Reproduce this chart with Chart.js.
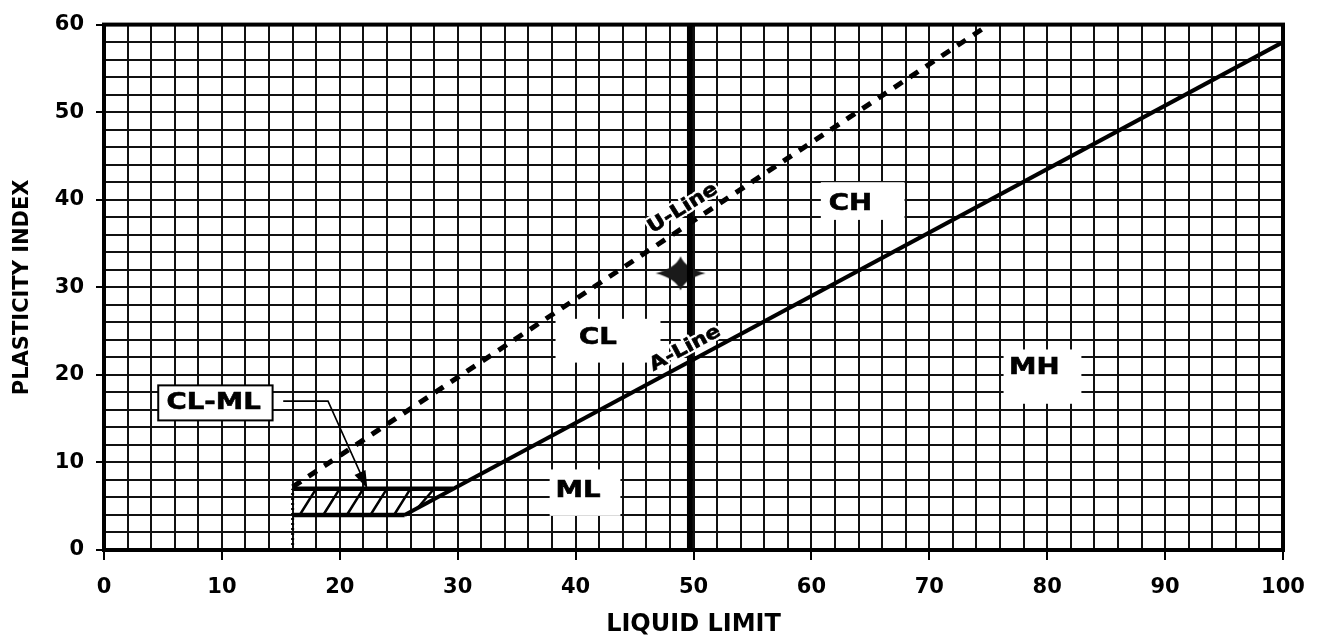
<!DOCTYPE html>
<html><head><meta charset="utf-8">
<script src="https://cdn.jsdelivr.net/npm/chart.js@4.4.1/dist/chart.umd.min.js"></script>
<style>html,body{margin:0;padding:0;background:#fff;overflow:hidden}canvas{display:block}</style>
</head><body>
<canvas id="c" width="1320" height="644"></canvas>
<script>
// ---- data ----
const aLineLL = [25.5, 100];
const aLinePI = [4, 58];
const uLineLL = [16, 74.5];
const uLinePI = [7.2, 59.5];
const clmlTopLL = [16, 29.6];
const clmlTopPI = [7, 7];
const clmlBottomLL = [16, 25.5];
const clmlBottomPI = [4, 4];
const ll50LL = [49.7, 49.7];
const ll50PI = [0, 60];
const dotLL = [16, 16];
const dotPI = [0, 7];
const hatchFromLL = [16.6, 18.6, 20.6, 22.6, 24.6, 26.6];
const hatchFromPI = [4, 4, 4, 4, 4, 4.8];
const hatchToLL = [18, 20, 22, 24, 26, 28];
const hatchToPI = [7, 7, 7, 7, 7, 7];
const leaderLL = [15.2, 19, 22.2];
const leaderPI = [17, 17, 7.4];
const sampleLL = [48.9];
const samplePI = [31.6];
const zoneNames = ['CH', 'CL', 'MH', 'ML'];
const zoneLL = [63.3, 41.9, 78.9, 40.2];
const zonePI = [39.5, 24.2, 20.8, 6.7];
const lineNames = ['U-Line', 'A-Line'];
const lineLabelLL = [49.1, 49.3];
const lineLabelPI = [39.0, 23.0];
const xTickStep = 2, yTickStep = 2, labelEvery = 10;
const xTitle = 'LIQUID LIMIT';
const yTitle = 'PLASTICITY INDEX';

// ---- layout/style (not data) ----
const zoneBoxes = [ // [llFrom, llTo, piFrom, piTo] white patches behind labels
  [60.8, 67.9, 37.7, 42.0],
  [38.3, 47.2, 21.4, 26.4],
  [76.3, 82.9, 16.7, 22.9],
  [37.8, 43.8, 3.9, 9.2]
];
const clmlBox = [4.6, 14.3, 14.8, 18.8];
const clmlText = {text: 'CL-ML', ll: 9.3, pi: 16.8};
const lineLabelAngles = [-32, -28];

const pts = (xs, ys) => xs.map((x, i) => ({x, y: ys[i]}));
const hatchData = [];
hatchFromLL.forEach((x, i) => {
  hatchData.push({x, y: hatchFromPI[i]}, {x: hatchToLL[i], y: hatchToPI[i]}, {x: hatchToLL[i], y: null});
});

// four-pointed star marker (concave sides)
const star = document.createElement('canvas');
star.width = 52; star.height = 36;
(function () {
  const g = star.getContext('2d');
  const cx = 26, cy = 18, rx = 25, ry = 17, k = 5;
  g.beginPath();
  g.moveTo(cx, cy - ry);
  g.quadraticCurveTo(cx + k, cy - k, cx + rx, cy);
  g.quadraticCurveTo(cx + k, cy + k, cx, cy + ry);
  g.quadraticCurveTo(cx - k, cy + k, cx - rx, cy);
  g.quadraticCurveTo(cx - k, cy - k, cx, cy - ry);
  g.closePath();
  g.fillStyle = '#1a1a1a';
  g.fill();
})();

const FONT = '"DejaVu Sans", "Liberation Sans", Arial, sans-serif';

function drawText(ctx, text, x, y, size, sx, rotDeg, halo) {
  ctx.save();
  ctx.translate(x, y);
  if (rotDeg) ctx.rotate(rotDeg * Math.PI / 180);
  ctx.scale(sx, 1);
  ctx.font = 'bold ' + size + 'px ' + FONT;
  ctx.textAlign = 'center';
  ctx.textBaseline = 'middle';
  if (halo) {
    ctx.lineWidth = halo; ctx.strokeStyle = '#fff'; ctx.lineJoin = 'round';
    ctx.strokeText(text, 0, 0);
  }
  ctx.fillStyle = '#000';
  ctx.fillText(text, 0, 0);
  ctx.lineWidth = 0.6; ctx.strokeStyle = '#000';
  ctx.strokeText(text, 0, 0);
  ctx.restore();
}

const decor = {
  id: 'decor',
  beforeDatasetsDraw(chart) {
    const {ctx, scales: {x, y}} = chart;
    ctx.save();
    ctx.fillStyle = '#fff';
    zoneBoxes.forEach(b => {
      const x0 = x.getPixelForValue(b[0]), x1 = x.getPixelForValue(b[1]);
      const y0 = y.getPixelForValue(b[3]), y1 = y.getPixelForValue(b[2]);
      ctx.fillRect(x0, y0, x1 - x0, y1 - y0);
    });
    ctx.restore();
  },
  afterDatasetsDraw(chart) {
    const {ctx, chartArea: a, scales: {x, y}} = chart;
    ctx.save();
    // frame
    ctx.lineWidth = 4; ctx.strokeStyle = '#000';
    ctx.strokeRect(a.left, a.top, a.right - a.left, a.bottom - a.top);
    // zone labels
    zoneNames.forEach((t, i) => {
      drawText(ctx, t, x.getPixelForValue(zoneLL[i]), y.getPixelForValue(zonePI[i]), 23, 1.2, 0, 0);
    });
    // line labels
    lineNames.forEach((t, i) => {
      drawText(ctx, t, x.getPixelForValue(lineLabelLL[i]), y.getPixelForValue(lineLabelPI[i]), 19, 1.15, lineLabelAngles[i], 5);
    });
    // CL-ML box
    const bx0 = x.getPixelForValue(clmlBox[0]), bx1 = x.getPixelForValue(clmlBox[1]);
    const by0 = y.getPixelForValue(clmlBox[3]), by1 = y.getPixelForValue(clmlBox[2]);
    ctx.fillStyle = '#fff';
    ctx.fillRect(bx0, by0, bx1 - bx0, by1 - by0);
    ctx.lineWidth = 2; ctx.strokeStyle = '#000';
    ctx.strokeRect(bx0, by0, bx1 - bx0, by1 - by0);
    drawText(ctx, clmlText.text, x.getPixelForValue(clmlText.ll), y.getPixelForValue(clmlText.pi), 23, 1.2, 0, 0);
    // arrow head on leader
    const n = leaderLL.length;
    const ex = x.getPixelForValue(leaderLL[n - 1]), ey = y.getPixelForValue(leaderPI[n - 1]);
    const sx = x.getPixelForValue(leaderLL[n - 2]), sy = y.getPixelForValue(leaderPI[n - 2]);
    const ang = Math.atan2(ey - sy, ex - sx);
    const L = 14, W = 6;
    ctx.beginPath();
    ctx.moveTo(ex + 4 * Math.cos(ang), ey + 4 * Math.sin(ang));
    ctx.lineTo(ex - L * Math.cos(ang) + W * Math.sin(ang), ey - L * Math.sin(ang) - W * Math.cos(ang));
    ctx.lineTo(ex - L * Math.cos(ang) - W * Math.sin(ang), ey - L * Math.sin(ang) + W * Math.cos(ang));
    ctx.closePath();
    ctx.fillStyle = '#000';
    ctx.fill();
    ctx.restore();
  }
};

const lineDs = (data, width, dash, extra) => Object.assign({
  type: 'line', data, borderColor: '#000', backgroundColor: '#000', borderWidth: width,
  borderDash: dash || [], pointRadius: 0, showLine: true, fill: false, tension: 0, spanGaps: false,
  borderCapStyle: 'butt'
}, extra || {});

const tickFont = {family: FONT, weight: 'bold', size: 21};

new Chart(document.getElementById('c'), {
  type: 'scatter',
  data: {
    datasets: [
      lineDs(pts(ll50LL, ll50PI), 6),
      lineDs(hatchData, 2.5),
      lineDs(pts(dotLL, dotPI), 3, [2, 3]),
      lineDs(pts(clmlTopLL, clmlTopPI), 4.5),
      lineDs(pts(clmlBottomLL, clmlBottomPI), 4.5),
      lineDs(pts(aLineLL, aLinePI), 4),
      lineDs(pts(uLineLL, uLinePI), 5, [10, 9]),
      lineDs(pts(leaderLL, leaderPI), 1.6),
      {type: 'scatter', data: pts(sampleLL, samplePI), pointStyle: star, pointRadius: 20, showLine: false}
    ]
  },
  options: {
    responsive: false,
    animation: false,
    events: [],
    layout: {padding: {top: 20, right: 37, left: 0, bottom: 0}},
    plugins: {legend: {display: false}, tooltip: {enabled: false}},
    scales: {
      x: {
        type: 'linear', min: 0, max: 100,
        afterFit: s => { s.height = 94; },
        ticks: {
          stepSize: xTickStep, autoSkip: false, maxRotation: 0, minRotation: 0,
          callback: v => (v % labelEvery === 0 ? String(v) : ''),
          font: tickFont, color: '#000', padding: 15
        },
        grid: {
          color: '#111', lineWidth: 2, tickLength: 10,
          tickColor: c => (c.tick && c.tick.value % labelEvery === 0 ? '#000' : 'rgba(0,0,0,0)'),
          tickWidth: 2
        },
        border: {color: '#000', width: 4},
        title: {display: true, text: xTitle, color: '#000', font: {family: FONT, weight: 'bold', size: 24}, padding: {top: 0, bottom: 5}}
      },
      y: {
        type: 'linear', min: 0, max: 60,
        afterFit: s => { s.width = 104; },
        ticks: {
          stepSize: yTickStep, autoSkip: false,
          callback: v => (v % labelEvery === 0 ? String(v) : ''),
          font: tickFont, color: '#000', padding: 12
        },
        grid: {
          color: '#111', lineWidth: 2, tickLength: 8,
          tickColor: c => (c.tick && c.tick.value % labelEvery === 0 ? '#000' : 'rgba(0,0,0,0)'),
          tickWidth: 2
        },
        border: {color: '#000', width: 4},
        title: {display: true, text: yTitle, color: '#000', font: {family: FONT, weight: 'bold', size: 21}, padding: {top: 10, bottom: 0}}
      }
    }
  },
  plugins: [decor]
});
</script>
</body></html>
